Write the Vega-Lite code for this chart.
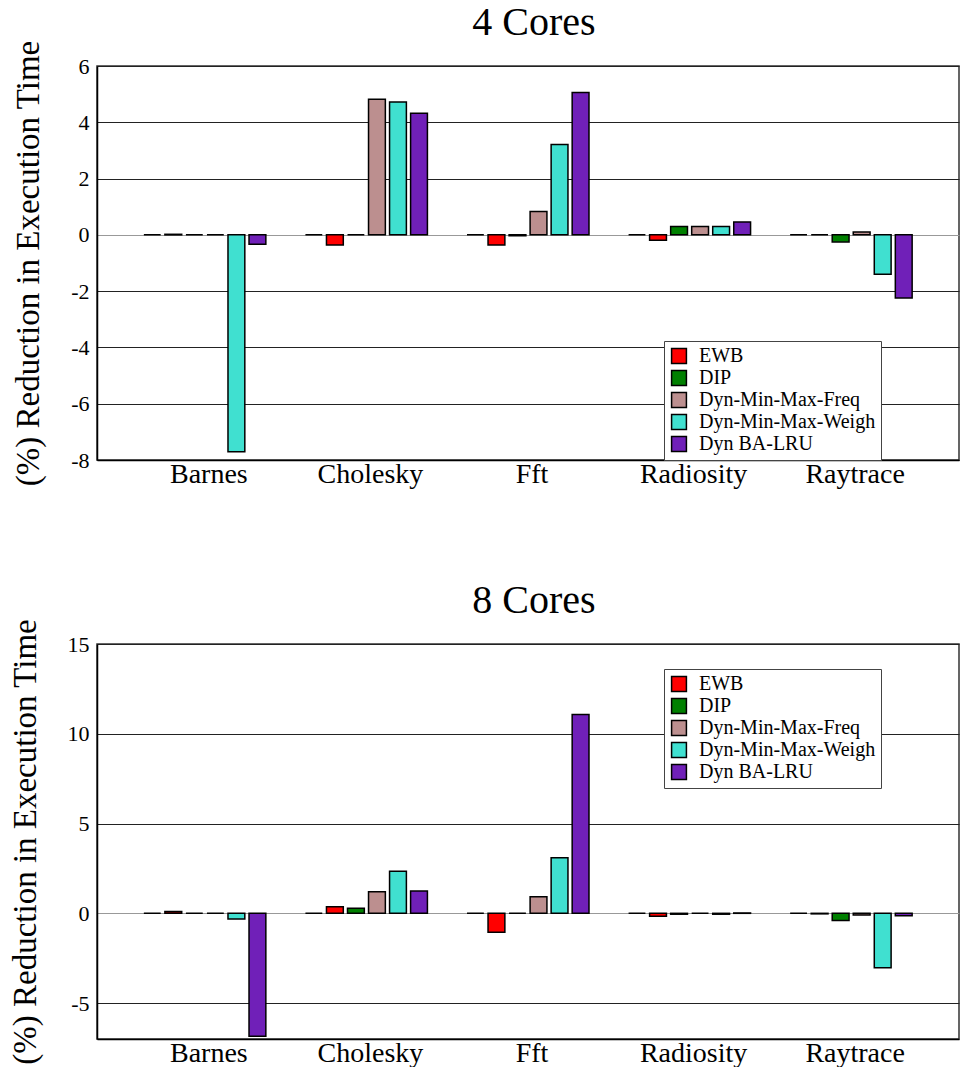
{
  "$schema": "https://vega.github.io/schema/vega-lite/v6.json",
  "background": "white",
  "padding": {"left": 8, "top": 2, "right": 0, "bottom": 0},
  "spacing": 91,
  "config": {
    "font": "Liberation Serif",
    "view": {"stroke": "#333", "strokeWidth": 1.5},
    "title": {"fontSize": 40, "fontWeight": "normal", "color": "black", "font": "Liberation Serif", "baseline": "bottom", "offset": -3, "frame": "group", "dx": 6},
    "axisX": {"title": null, "labelAngle": 0, "labelFontSize": 28, "labelColor": "black", "ticks": false, "domain": true, "domainColor": "black", "domainWidth": 1.5, "labelPadding": 0, "labelOffset": 4, "grid": false, "labelFont": "Liberation Serif"},
    "axisY": {"labelFontSize": 22, "labelColor": "black", "labelPadding": 8, "ticks": false, "domainColor": "black", "domainWidth": 1.5, "gridColor": {"condition": {"test": "datum.value === 0", "value": "#999999"}, "value": "#222222"}, "gridWidth": 1, "titleFontSize": 33, "titleFontWeight": "normal", "titleColor": "black", "titlePadding": 25, "labelFont": "Liberation Serif", "titleFont": "Liberation Serif", "labelExpr": "toString(datum.value)"},
    "legend": {"orient": "none", "title": null, "strokeColor": "#444", "fillColor": "white", "padding": 5, "labelFontSize": 20, "labelLimit": 0, "labelColor": "black", "labelFont": "Liberation Serif", "symbolType": "square", "symbolSize": 220, "symbolStrokeColor": "black", "symbolStrokeWidth": 1.5, "rowPadding": 0, "labelOffset": 10}
  },
  "datasets": {
    "d": [
      {"cores": 4, "bench": "Barnes", "series": "LRU", "value": 0},
      {"cores": 4, "bench": "Barnes", "series": "EWB", "value": 0.02},
      {"cores": 4, "bench": "Barnes", "series": "DIP", "value": 0},
      {"cores": 4, "bench": "Barnes", "series": "Dyn-Min-Max-Freq", "value": 0},
      {"cores": 4, "bench": "Barnes", "series": "Dyn-Min-Max-Weigh", "value": -7.71},
      {"cores": 4, "bench": "Barnes", "series": "Dyn BA-LRU", "value": -0.33},
      {"cores": 4, "bench": "Cholesky", "series": "LRU", "value": 0},
      {"cores": 4, "bench": "Cholesky", "series": "EWB", "value": -0.36},
      {"cores": 4, "bench": "Cholesky", "series": "DIP", "value": 0},
      {"cores": 4, "bench": "Cholesky", "series": "Dyn-Min-Max-Freq", "value": 4.82},
      {"cores": 4, "bench": "Cholesky", "series": "Dyn-Min-Max-Weigh", "value": 4.72},
      {"cores": 4, "bench": "Cholesky", "series": "Dyn BA-LRU", "value": 4.32},
      {"cores": 4, "bench": "Fft", "series": "LRU", "value": 0},
      {"cores": 4, "bench": "Fft", "series": "EWB", "value": -0.36},
      {"cores": 4, "bench": "Fft", "series": "DIP", "value": -0.03},
      {"cores": 4, "bench": "Fft", "series": "Dyn-Min-Max-Freq", "value": 0.83},
      {"cores": 4, "bench": "Fft", "series": "Dyn-Min-Max-Weigh", "value": 3.21},
      {"cores": 4, "bench": "Fft", "series": "Dyn BA-LRU", "value": 5.06},
      {"cores": 4, "bench": "Radiosity", "series": "LRU", "value": 0},
      {"cores": 4, "bench": "Radiosity", "series": "EWB", "value": -0.19},
      {"cores": 4, "bench": "Radiosity", "series": "DIP", "value": 0.3},
      {"cores": 4, "bench": "Radiosity", "series": "Dyn-Min-Max-Freq", "value": 0.3},
      {"cores": 4, "bench": "Radiosity", "series": "Dyn-Min-Max-Weigh", "value": 0.3},
      {"cores": 4, "bench": "Radiosity", "series": "Dyn BA-LRU", "value": 0.46},
      {"cores": 4, "bench": "Raytrace", "series": "LRU", "value": 0},
      {"cores": 4, "bench": "Raytrace", "series": "EWB", "value": 0},
      {"cores": 4, "bench": "Raytrace", "series": "DIP", "value": -0.25},
      {"cores": 4, "bench": "Raytrace", "series": "Dyn-Min-Max-Freq", "value": 0.1},
      {"cores": 4, "bench": "Raytrace", "series": "Dyn-Min-Max-Weigh", "value": -1.4},
      {"cores": 4, "bench": "Raytrace", "series": "Dyn BA-LRU", "value": -2.24},
      {"cores": 8, "bench": "Barnes", "series": "LRU", "value": 0},
      {"cores": 8, "bench": "Barnes", "series": "EWB", "value": 0.1},
      {"cores": 8, "bench": "Barnes", "series": "DIP", "value": 0},
      {"cores": 8, "bench": "Barnes", "series": "Dyn-Min-Max-Freq", "value": 0},
      {"cores": 8, "bench": "Barnes", "series": "Dyn-Min-Max-Weigh", "value": -0.32},
      {"cores": 8, "bench": "Barnes", "series": "Dyn BA-LRU", "value": -6.84},
      {"cores": 8, "bench": "Cholesky", "series": "LRU", "value": 0},
      {"cores": 8, "bench": "Cholesky", "series": "EWB", "value": 0.37},
      {"cores": 8, "bench": "Cholesky", "series": "DIP", "value": 0.28},
      {"cores": 8, "bench": "Cholesky", "series": "Dyn-Min-Max-Freq", "value": 1.2},
      {"cores": 8, "bench": "Cholesky", "series": "Dyn-Min-Max-Weigh", "value": 2.34},
      {"cores": 8, "bench": "Cholesky", "series": "Dyn BA-LRU", "value": 1.25},
      {"cores": 8, "bench": "Fft", "series": "LRU", "value": 0},
      {"cores": 8, "bench": "Fft", "series": "EWB", "value": -1.06},
      {"cores": 8, "bench": "Fft", "series": "DIP", "value": 0},
      {"cores": 8, "bench": "Fft", "series": "Dyn-Min-Max-Freq", "value": 0.92},
      {"cores": 8, "bench": "Fft", "series": "Dyn-Min-Max-Weigh", "value": 3.1},
      {"cores": 8, "bench": "Fft", "series": "Dyn BA-LRU", "value": 11.07},
      {"cores": 8, "bench": "Radiosity", "series": "LRU", "value": 0},
      {"cores": 8, "bench": "Radiosity", "series": "EWB", "value": -0.16},
      {"cores": 8, "bench": "Radiosity", "series": "DIP", "value": -0.05},
      {"cores": 8, "bench": "Radiosity", "series": "Dyn-Min-Max-Freq", "value": 0},
      {"cores": 8, "bench": "Radiosity", "series": "Dyn-Min-Max-Weigh", "value": -0.05},
      {"cores": 8, "bench": "Radiosity", "series": "Dyn BA-LRU", "value": 0.02},
      {"cores": 8, "bench": "Raytrace", "series": "LRU", "value": 0},
      {"cores": 8, "bench": "Raytrace", "series": "EWB", "value": -0.03},
      {"cores": 8, "bench": "Raytrace", "series": "DIP", "value": -0.4},
      {"cores": 8, "bench": "Raytrace", "series": "Dyn-Min-Max-Freq", "value": -0.1},
      {"cores": 8, "bench": "Raytrace", "series": "Dyn-Min-Max-Weigh", "value": -3.03},
      {"cores": 8, "bench": "Raytrace", "series": "Dyn BA-LRU", "value": -0.14}
    ]
  },
  "vconcat": [
    {
      "title": {"text": "4 Cores"},
      "width": 862,
      "height": 394,
      "data": {"name": "d"},
      "transform": [{"filter": "datum.cores === 4"}],
      "mark": {"type": "bar", "stroke": "black", "strokeWidth": 1.5},
      "encoding": {
        "x": {"field": "bench", "type": "nominal", "sort": ["Barnes", "Cholesky", "Fft", "Radiosity", "Raytrace"], "scale": {"paddingInner": 0.245, "paddingOuter": 0.29}},
        "xOffset": {"field": "series", "type": "nominal", "scale": {"domain": ["LRU", "EWB", "DIP", "Dyn-Min-Max-Freq", "Dyn-Min-Max-Weigh", "Dyn BA-LRU"], "paddingInner": 0.2, "paddingOuter": 0}},
        "y": {"field": "value", "type": "quantitative", "scale": {"domain": [-8, 6], "nice": false}, "axis": {"values": [-8, -6, -4, -2, 0, 2, 4, 6], "title": "(%) Reduction in Execution Time"}},
        "color": {"field": "series", "type": "nominal", "scale": {"domain": ["LRU", "EWB", "DIP", "Dyn-Min-Max-Freq", "Dyn-Min-Max-Weigh", "Dyn BA-LRU"], "range": ["#000000", "#ff0000", "#008000", "#bc8f8f", "#40e0d0", "#7020b8"]}, "legend": {"values": ["EWB", "DIP", "Dyn-Min-Max-Freq", "Dyn-Min-Max-Weigh", "Dyn BA-LRU"], "legendX": 567, "legendY": 275}}
      }
    },
    {
      "title": {"text": "8 Cores"},
      "width": 862,
      "height": 395,
      "data": {"name": "d"},
      "transform": [{"filter": "datum.cores === 8"}],
      "mark": {"type": "bar", "stroke": "black", "strokeWidth": 1.5},
      "encoding": {
        "x": {"field": "bench", "type": "nominal", "sort": ["Barnes", "Cholesky", "Fft", "Radiosity", "Raytrace"], "scale": {"paddingInner": 0.245, "paddingOuter": 0.29}},
        "xOffset": {"field": "series", "type": "nominal", "scale": {"domain": ["LRU", "EWB", "DIP", "Dyn-Min-Max-Freq", "Dyn-Min-Max-Weigh", "Dyn BA-LRU"], "paddingInner": 0.2, "paddingOuter": 0}},
        "y": {"field": "value", "type": "quantitative", "scale": {"domain": [-7, 15], "nice": false}, "axis": {"values": [-5, 0, 5, 10, 15], "title": "(%) Reduction in Execution Time"}},
        "color": {"field": "series", "type": "nominal", "scale": {"domain": ["LRU", "EWB", "DIP", "Dyn-Min-Max-Freq", "Dyn-Min-Max-Weigh", "Dyn BA-LRU"], "range": ["#000000", "#ff0000", "#008000", "#bc8f8f", "#40e0d0", "#7020b8"]}, "legend": {"values": ["EWB", "DIP", "Dyn-Min-Max-Freq", "Dyn-Min-Max-Weigh", "Dyn BA-LRU"], "legendX": 567, "legendY": 25}}
      }
    }
  ],
  "resolve": {"scale": {"y": "independent", "color": "independent", "x": "independent", "xOffset": "independent"}, "legend": {"color": "independent"}}
}
